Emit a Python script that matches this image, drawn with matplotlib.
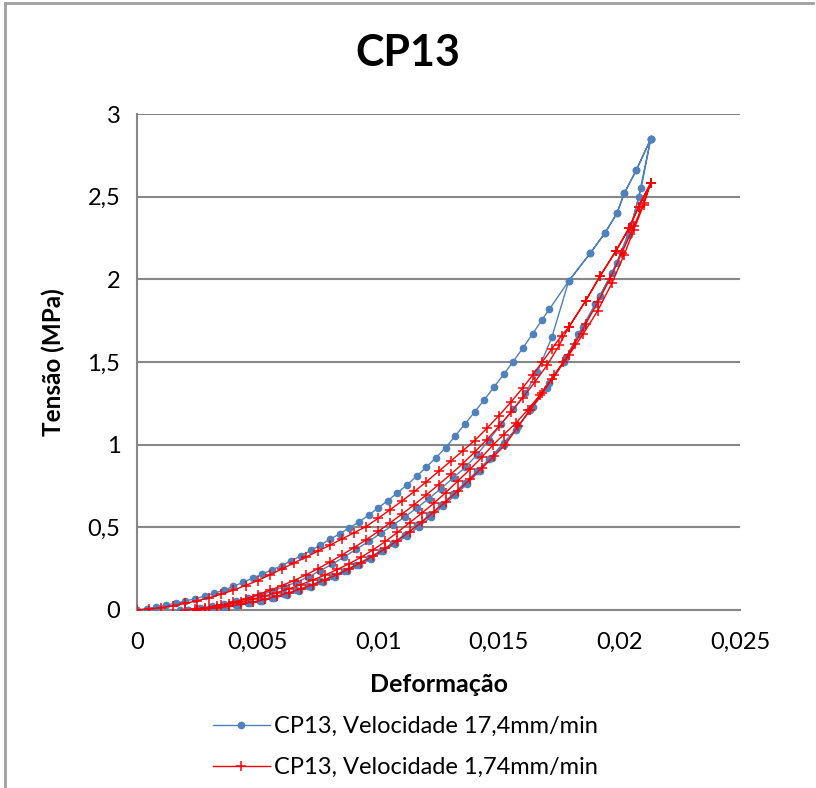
import matplotlib
matplotlib.use("Agg")
import matplotlib.pyplot as plt
from matplotlib.lines import Line2D
from matplotlib.ticker import FuncFormatter

plt.rcParams['font.family'] = ['Lato', 'DejaVu Sans']

# ---- dados: velocidade 17,4 mm/min (azul) ----
# carga 1
b_load1_x = [0, 0.0004, 0.0008, 0.0012, 0.0016, 0.0020, 0.0024, 0.0028, 0.0032, 0.0036,
             0.0040, 0.0044, 0.0048, 0.0052, 0.0056, 0.0060, 0.0064, 0.0068, 0.0072, 0.0076,
             0.0080, 0.0084, 0.0088, 0.0092, 0.0096, 0.0100, 0.0104, 0.0108, 0.0112, 0.0116,
             0.0120, 0.0124, 0.0128, 0.0132, 0.0136, 0.0140, 0.0144, 0.0148, 0.0152, 0.0156,
             0.0160, 0.0164, 0.0168, 0.0171, 0.0179, 0.0188, 0.0194, 0.0199, 0.0202, 0.0207, 0.0213]
b_load1_y = [0, 0.008, 0.018, 0.029, 0.041, 0.054, 0.068, 0.084, 0.101, 0.120,
             0.143, 0.168, 0.193, 0.218, 0.243, 0.268, 0.298, 0.328, 0.360, 0.393,
             0.427, 0.461, 0.497, 0.532, 0.574, 0.617, 0.662, 0.709, 0.758, 0.810,
             0.865, 0.922, 0.982, 1.055, 1.125, 1.198, 1.272, 1.348, 1.425, 1.503,
             1.585, 1.670, 1.757, 1.82, 1.99, 2.16, 2.28, 2.40, 2.52, 2.66, 2.85]
# descarga 1
b_unl1_x = [0.0213, 0.0208, 0.0204, 0.0197, 0.0190, 0.0183, 0.0177, 0.0170, 0.0163, 0.0157,
            0.0152, 0.0147, 0.0142, 0.0137, 0.0132, 0.0127, 0.0122, 0.0117, 0.0112, 0.0107,
            0.0102, 0.0097, 0.0092, 0.0087, 0.0082, 0.0077, 0.0072, 0.0067, 0.0062, 0.0057,
            0.0052, 0.0047, 0.0042, 0.0037, 0.0032, 0.0027, 0.0021]
b_unl1_y = [2.85, 2.50, 2.27, 2.04, 1.85, 1.67, 1.50, 1.34, 1.21, 1.09,
            1.00, 0.92, 0.84, 0.765, 0.695, 0.63, 0.565, 0.505, 0.45, 0.40,
            0.355, 0.31, 0.27, 0.235, 0.20, 0.17, 0.14, 0.115, 0.093, 0.073,
            0.055, 0.040, 0.028, 0.018, 0.010, 0.004, 0.0]
# carga 2
b_load2_x = [0.0021, 0.0026, 0.0031, 0.0036, 0.0041, 0.0046, 0.0051, 0.0056, 0.0061, 0.0066,
             0.0071, 0.0076, 0.0081, 0.0086, 0.0091, 0.0096, 0.0101, 0.0106, 0.0111, 0.0116,
             0.0121, 0.0126, 0.0131, 0.0136, 0.0141, 0.0146, 0.0151, 0.0156, 0.0161, 0.0166,
             0.0172, 0.0179, 0.0188, 0.0194, 0.0199, 0.0202, 0.0207, 0.0213]
b_load2_y = [0.0, 0.010, 0.022, 0.036, 0.052, 0.070, 0.090, 0.114, 0.140, 0.168,
             0.200, 0.238, 0.278, 0.322, 0.368, 0.415, 0.463, 0.512, 0.563, 0.617,
             0.674, 0.734, 0.798, 0.862, 0.940, 1.030, 1.125, 1.215, 1.310, 1.440,
             1.65, 1.99, 2.16, 2.28, 2.40, 2.52, 2.66, 2.85]
# descarga 2
b_unl2_x = [0.0213, 0.0209, 0.0205, 0.0199, 0.0192, 0.0185, 0.0178, 0.0171, 0.0164, 0.0158,
            0.0152, 0.0146, 0.0141, 0.0136, 0.0131, 0.0126, 0.0121, 0.0116, 0.0111, 0.0106,
            0.0101, 0.0096, 0.0091, 0.0086, 0.0081, 0.0076, 0.0071, 0.0066, 0.0061, 0.0056,
            0.0051, 0.0046, 0.0041, 0.0036, 0.0031, 0.0025, 0.0018]
b_unl2_y = [2.85, 2.55, 2.33, 2.10, 1.90, 1.71, 1.53, 1.37, 1.23, 1.11,
            1.01, 0.915, 0.84, 0.77, 0.70, 0.635, 0.572, 0.512, 0.456, 0.405,
            0.358, 0.314, 0.275, 0.238, 0.204, 0.173, 0.144, 0.118, 0.095, 0.075,
            0.057, 0.042, 0.030, 0.020, 0.011, 0.004, 0.0]

# ---- dados: velocidade 1,74 mm/min (vermelho) ----
r_load1_x = [0, 0.0005, 0.0010, 0.0015, 0.0020, 0.0025, 0.0030, 0.0035, 0.0040, 0.0045,
             0.0050, 0.0055, 0.0060, 0.0065, 0.0070, 0.0075, 0.0080, 0.0085, 0.0090, 0.0095,
             0.0100, 0.0105, 0.0110, 0.0115, 0.0120, 0.0125, 0.0130, 0.0135, 0.0140, 0.0145,
             0.0150, 0.0155, 0.0160, 0.0164, 0.0168, 0.0172, 0.0176, 0.0179, 0.0186, 0.0192,
             0.01985, 0.0204, 0.0208, 0.0213]
r_load1_y = [0, 0.006, 0.015, 0.026, 0.040, 0.056, 0.075, 0.096, 0.120, 0.148,
             0.178, 0.212, 0.248, 0.284, 0.320, 0.356, 0.392, 0.430, 0.467, 0.505,
             0.555, 0.607, 0.661, 0.717, 0.776, 0.838, 0.900, 0.962, 1.025, 1.098,
             1.175, 1.257, 1.345, 1.42, 1.50, 1.58, 1.66, 1.71, 1.87, 2.02,
             2.17, 2.31, 2.44, 2.583]
r_unl1_x = [0.0213, 0.0210, 0.0206, 0.0202, 0.0197, 0.0191, 0.0185, 0.0179, 0.0173, 0.0168,
            0.0163, 0.0158, 0.01527, 0.0148, 0.0143, 0.0138, 0.0133, 0.0128, 0.0123, 0.0118,
            0.0113, 0.0108, 0.0103, 0.0098, 0.0093, 0.0088, 0.0083, 0.0078, 0.0073, 0.0068,
            0.0063, 0.0058, 0.0053, 0.0048, 0.0043, 0.0038, 0.0033, 0.0028, 0.0025]
r_unl1_y = [2.583, 2.45, 2.30, 2.15, 1.98, 1.81, 1.67, 1.54, 1.42, 1.31,
            1.21, 1.11, 1.00, 0.93, 0.86, 0.79, 0.72, 0.655, 0.592, 0.53,
            0.474, 0.42, 0.372, 0.328, 0.287, 0.25, 0.215, 0.183, 0.154, 0.128,
            0.104, 0.083, 0.064, 0.048, 0.034, 0.022, 0.012, 0.005, 0.0]
r_load2_x = [0.0025, 0.0030, 0.0035, 0.0040, 0.0045, 0.0050, 0.0055, 0.0060, 0.0065, 0.0070,
             0.0075, 0.0080, 0.0085, 0.0090, 0.0095, 0.0100, 0.0105, 0.0110, 0.0115, 0.0120,
             0.0125, 0.0130, 0.0135, 0.0140, 0.0145, 0.0150, 0.0155, 0.0160, 0.0165, 0.0170,
             0.0175, 0.0179, 0.0186, 0.0192, 0.01985, 0.0204, 0.0208, 0.0213]
r_load2_y = [0.0, 0.014, 0.030, 0.048, 0.068, 0.092, 0.118, 0.147, 0.178, 0.212,
             0.250, 0.290, 0.333, 0.378, 0.425, 0.475, 0.528, 0.582, 0.638, 0.697,
             0.758, 0.82, 0.885, 0.955, 1.03, 1.11, 1.195, 1.285, 1.38, 1.48,
             1.60, 1.71, 1.87, 2.02, 2.17, 2.31, 2.44, 2.583]
r_unl2_x = [0.0213, 0.0210, 0.0206, 0.0201, 0.0196, 0.0191, 0.0186, 0.01815, 0.01768, 0.0172,
            0.0167, 0.0162, 0.0157, 0.0152, 0.01477, 0.0143, 0.0138, 0.0133, 0.0128, 0.0123,
            0.0118, 0.0113, 0.0108, 0.0103, 0.0098, 0.0093, 0.0088, 0.0083, 0.0078, 0.0073,
            0.0068, 0.0063, 0.0058, 0.0053, 0.0048, 0.0043, 0.0038, 0.0033, 0.0028, 0.0024, 0.0020]
r_unl2_y = [2.583, 2.46, 2.32, 2.16, 2.00, 1.86, 1.73, 1.61, 1.50, 1.40,
            1.30, 1.21, 1.13, 1.06, 1.00, 0.925, 0.85, 0.78, 0.71, 0.645,
            0.585, 0.528, 0.47, 0.415, 0.365, 0.32, 0.28, 0.245, 0.212, 0.182,
            0.154, 0.128, 0.105, 0.085, 0.066, 0.05, 0.036, 0.024, 0.013, 0.006, 0.0]

blue_x = b_load1_x + b_unl1_x + b_load2_x + b_unl2_x
blue_y = b_load1_y + b_unl1_y + b_load2_y + b_unl2_y
red_x = r_load1_x + r_unl1_x + r_load2_x + r_unl2_x
red_y = r_load1_y + r_unl1_y + r_load2_y + r_unl2_y

x_ticks = [0, 0.005, 0.01, 0.015, 0.02, 0.025]
y_ticks = [0, 0.5, 1, 1.5, 2, 2.5, 3]

azul = '#4F81BD'
vermelho = '#FF0000'
cinza = '#878787'

fig = plt.figure(figsize=(8.16, 7.88), dpi=100)
ax = fig.add_axes([137/816, 1 - 610/788, (740 - 137)/816, (610 - 114)/788])

ax.plot(blue_x, blue_y, color=azul, lw=1.0, marker='o', ms=4.5, mec=azul, mfc=azul,
        label='CP13, Velocidade 17,4mm/min', zorder=3)
ax.plot(red_x, red_y, color=vermelho, lw=1.0, marker='+', ms=7.5, mew=1.1,
        label='CP13, Velocidade 1,74mm/min', zorder=4)

ax.set_xlim(0, 0.025)
ax.set_ylim(0, 3)
ax.set_xticks(x_ticks)
ax.set_yticks(y_ticks)

def virgula(v, pos):
    s = ('%g' % v).replace('.', ',')
    return s

ax.xaxis.set_major_formatter(FuncFormatter(virgula))
ax.yaxis.set_major_formatter(FuncFormatter(virgula))
ax.tick_params(axis='x', length=0, labelsize=17, pad=16)
ax.tick_params(axis='y', length=0, labelsize=17, pad=12)
ax.grid(axis='y', color=cinza, lw=1.5)
ax.set_axisbelow(True)
for s in ['top', 'right']:
    ax.spines[s].set_visible(False)
for s in ['left', 'bottom']:
    ax.spines[s].set_color(cinza)
    ax.spines[s].set_linewidth(1.5)

ax.set_xlabel('Deformação', fontsize=18, fontweight='bold', labelpad=14)
ax.set_ylabel('Tensão (MPa)', fontsize=17.5, fontweight='bold', labelpad=16)
fig.text(0.5, 1 - 53/788, 'CP13', fontsize=31, fontweight='bold', ha='center', va='center')

leg = fig.legend(loc='center', bbox_to_anchor=(0.497, 1 - 747/788), frameon=False,
                 fontsize=17, handlelength=2.4, labelspacing=0.85, handletextpad=0.2)

# borda do gráfico
fig.add_artist(Line2D([4.5/816, 4.5/816], [0, 1 - 2.5/788], transform=fig.transFigure,
                      color='#A0A0A0', lw=2))
fig.add_artist(Line2D([4.5/816, 813/816], [1 - 2.5/788, 1 - 2.5/788], transform=fig.transFigure,
                      color='#A0A0A0', lw=2))

fig.savefig('out.png', dpi=100)
